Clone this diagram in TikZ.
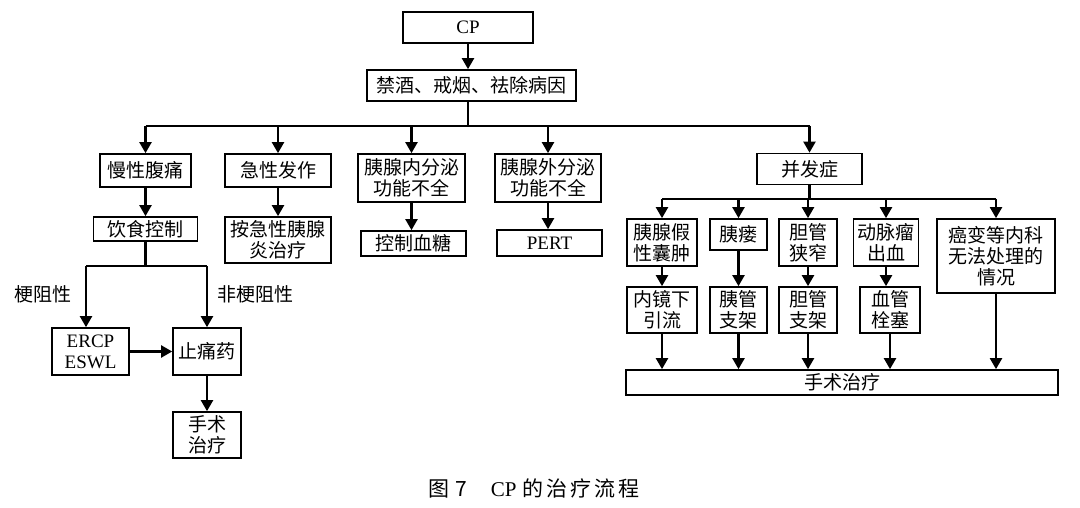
\documentclass[tikz,border=0pt]{standalone}
\usepackage{fontspec}
\setmainfont{Liberation Serif}
\newfontfamily\cjk{Noto Sans CJK SC}
\usetikzlibrary{arrows.meta}
\begin{document}
\begin{tikzpicture}[x=1pt,y=-1pt,
  box/.style={draw, line width=1.7pt, inner sep=0pt, align=center,
    font=\cjk\fontsize{19}{21}\selectfont},
  lat/.style={font=\rmfamily\fontsize{19}{21}\selectfont},
  lbl/.style={inner sep=0pt, font=\cjk\fontsize{19}{21}\selectfont},
  ln/.style={line width=2.2pt},
  arr/.style={line width=2.2pt, -{Triangle[length=11pt,width=12pt]}}]
\useasboundingbox (0,0) rectangle (1080,508);
% top
\node[box, minimum width=130pt, minimum height=31pt, lat] (cp) at (468,27.5) {CP};
\node[box, minimum width=209pt, minimum height=31pt] (jj) at (471.5,85.5) {禁酒、戒烟、祛除病因};
% first level
\node[box, minimum width=91pt, minimum height=33pt] (mx) at (145.5,170.5) {慢性腹痛};
\node[box, minimum width=106pt, minimum height=33pt] (jx) at (278,170.5) {急性发作};
\node[box, minimum width=107pt, minimum height=48pt] (nf) at (411.5,178) {胰腺内分泌\\功能不全};
\node[box, minimum width=106pt, minimum height=48pt] (wf) at (548,178) {胰腺外分泌\\功能不全};
\node[box, minimum width=105pt, minimum height=31pt] (bf) at (809.5,169) {并发症};
% second level
\node[box, minimum width=104pt, minimum height=24pt] (ys) at (145.5,229) {饮食控制};
\node[box, minimum width=106pt, minimum height=46pt] (ajx) at (278,240) {按急性胰腺\\炎治疗};
\node[box, minimum width=105pt, minimum height=25pt] (kz) at (413.5,243.5) {控制血糖};
\node[box, minimum width=105pt, minimum height=26pt, lat] (pert) at (549.5,243) {PERT};
% left branch
\node[box, minimum width=77pt, minimum height=47pt, lat] (ercp) at (90.5,351.5) {ERCP\\ESWL};
\node[box, minimum width=68pt, minimum height=47pt] (ztq) at (207,351.5) {止痛药};
\node[box, minimum width=68pt, minimum height=46pt] (ss1) at (207,435) {手术\\治疗};
\node[lbl] (lb1) at (43,294) {梗阻性};
\node[lbl] (lb2) at (255,294) {非梗阻性};
% complications
\node[box, minimum width=70pt, minimum height=47pt] (c1) at (662,242.5) {胰腺假\\性囊肿};
\node[box, minimum width=57pt, minimum height=31pt] (c2) at (738.5,234.5) {胰瘘};
\node[box, minimum width=58pt, minimum height=47pt] (c3) at (808,242.5) {胆管\\狭窄};
\node[box, minimum width=65pt, minimum height=47pt] (c4) at (886,242.5) {动脉瘤\\出血};
\node[box, minimum width=118pt, minimum height=74pt] (c5) at (996,256) {癌变等内科\\无法处理的\\情况};
\node[box, minimum width=70pt, minimum height=46pt] (d1) at (662,310) {内镜下\\引流};
\node[box, minimum width=57pt, minimum height=46pt] (d2) at (738.5,310) {胰管\\支架};
\node[box, minimum width=58pt, minimum height=46pt] (d3) at (808,310) {胆管\\支架};
\node[box, minimum width=60pt, minimum height=46pt] (d4) at (890,310) {血管\\栓塞};
\node[box, minimum width=432pt, minimum height=25pt] (ss2) at (842,382.5) {手术治疗};
% caption
\node[inner sep=0pt, font=\fontsize{21}{23}\selectfont] (cap) at (534,488)
  {{\cjk 图\hspace{6pt}7}\hspace{24pt}CP\hspace{6pt}{\cjk 的\hspace{3pt}治\hspace{3pt}疗\hspace{3pt}流\hspace{3pt}程}};
% connectors top
\coordinate (bus) at (468,126);
\draw[arr] (cp.south) -- (cp.south |- jj.north);
\draw[ln] (bus |- jj.south) -- (bus);
\draw[ln] (mx.north |- bus) -- (bf.north |- bus);
\foreach \n in {mx,jx,nf,wf,bf} \draw[arr] (\n.north |- bus) -- (\n.north);
\draw[arr] (mx.south) -- (mx.south |- ys.north);
\draw[arr] (jx.south) -- (jx.south |- ajx.north);
\draw[arr] (nf.south) -- (nf.south |- kz.north);
\draw[arr] (wf.south) -- (wf.south |- pert.north);
% left split
\coordinate (sp) at (145.5,266);
\coordinate (spl) at (86,266);
\coordinate (spr) at (207,266);
\draw[ln] (ys.south) -- (sp);
\draw[ln] (spl) -- (spr);
\draw[arr] (spl) -- (spl |- ercp.north);
\draw[arr] (spr) -- (ztq.north);
\draw[arr] (ercp.east) -- (ztq.west);
\draw[arr] (ztq.south) -- (ss1.north);
% complications
\coordinate (cb) at (809.5,199);
\draw[ln] (bf.south) -- (cb);
\draw[ln] (c1.north |- cb) -- (c5.north |- cb);
\foreach \n in {c1,c2,c3,c4,c5} \draw[arr] (\n.north |- cb) -- (\n.north);
\draw[arr] (c1.south) -- (d1.north);
\draw[arr] (c2.south) -- (d2.north);
\draw[arr] (c3.south) -- (d3.north);
\draw[arr] (c4.south) -- (c4.south |- d4.north);
\foreach \n in {d1,d2,d3,d4,c5} \draw[arr] (\n.south) -- (\n.south |- ss2.north);
\end{tikzpicture}
\end{document}
